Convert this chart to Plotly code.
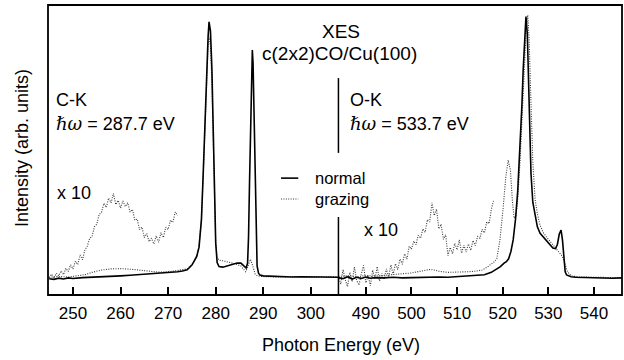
import plotly.graph_objects as go

# ---------------- DATA (intensity in arb. units, 0..100 frame) -------------
ck_tick_vals = [250, 260, 270, 280, 290, 300]
ok_tick_vals = [490, 500, 510, 520, 530, 540]

# C-K, normal emission (solid)
ck_normal_x = [245, 246, 247, 248, 249, 250, 252, 254, 256, 258, 260, 262, 264, 266, 268, 270, 272, 273,
               274, 275, 276, 276.5, 277, 277.4, 277.8, 278.1, 278.4, 278.6, 278.9, 279.2, 279.5, 279.7,
               280.0, 280.3, 280.7, 281.5, 282.5, 283.5, 284.5, 285.3, 285.9, 286.4, 286.7, 286.9, 287.1,
               287.3, 287.5, 287.7, 287.85, 288.0, 288.15, 288.3, 288.5, 288.7, 289.0, 289.3, 290, 292,
               294, 296, 298, 300, 302, 304, 305.8]
ck_normal_y = [5.6, 5.4, 5.8, 5.5, 5.9, 5.7, 6.0, 6.1, 6.3, 6.4, 6.6, 6.8, 7.0, 7.2, 7.4, 7.6, 8.0, 8.3,
               8.7, 10.3, 13.2, 16.5, 26, 43, 63, 78, 89, 94.2, 91, 78, 55, 38,
               18, 11.2, 9.8, 9.6, 10.0, 10.6, 11.0, 11.0, 10.2, 9.3, 11, 20, 38,
               56, 74, 84.5, 80, 67, 50, 33, 18, 10, 7.5, 6.9, 6.6, 6.4,
               6.3, 6.2, 6.3, 6.2, 6.1, 6.2, 6.1]

# C-K, grazing emission (dotted, x1)
ck_grazing_x = [245, 247, 249, 251, 252.5, 254, 256, 258, 260, 262, 264, 266, 268, 270, 272, 274, 275,
                276, 276.5, 277, 277.4, 277.8, 278.1, 278.4, 278.6, 278.9, 279.2, 279.5, 279.7, 280.0,
                280.3, 280.7, 281.5, 282.5, 283.5, 284.5, 285.3, 285.9, 286.3, 286.7, 287.0, 287.3,
                287.6, 287.9, 288.3, 288.8, 289.5, 291, 294, 297, 300, 303, 305.8]
ck_grazing_y = [6.1, 6.4, 6.2, 6.6, 7.0, 7.8, 8.6, 9.0, 9.1, 8.9, 8.6, 8.2, 7.9, 8.0, 8.5, 9.0, 10.5,
                13.5, 17, 26, 42, 62, 77, 86, 89, 86, 73, 50, 34, 18,
                13, 12, 11.8, 11.5, 11.0, 10.5, 10.0, 8.8, 8.0, 9.5, 11, 12.3,
                11, 9.0, 7.2, 6.6, 6.4, 6.3, 6.2, 6.4, 6.2, 6.3, 6.2]

# C-K, grazing x10 (noisy dotted)
ck_grazing10_x = [245.0, 245.5, 246.0, 246.5, 247.0, 247.5, 248.0, 248.5, 249.0, 249.5, 250.0, 250.5,
                  251.0, 251.5, 252.0, 252.5, 253.0, 253.5, 254.0, 254.5, 255.0, 255.5, 256.0, 256.5,
                  257.0, 257.5, 258.0, 258.5, 259.0, 259.5, 260.0, 260.5, 261.0, 261.5, 262.0, 262.5,
                  263.0, 263.5, 264.0, 264.5, 265.0, 265.5, 266.0, 266.5, 267.0, 267.5, 268.0, 268.5,
                  269.0, 269.5, 270.0, 270.5, 271.0, 271.5, 272.0]
ck_grazing10_y = [6.0, 7.2, 5.8, 7.5, 6.6, 8.3, 7.0, 9.2, 8.1, 10.4, 9.0, 11.6,
                  10.5, 13.8, 12.2, 15.5, 16.8, 19.5, 20.2, 23.5, 24.4, 27.8, 28.5, 31.6,
                  30.2, 33.4, 31.8, 35.0, 31.2, 32.6, 30.0, 32.4, 30.5, 31.8, 28.6, 29.5,
                  25.8, 26.2, 22.5, 23.4, 19.8, 21.2, 18.4, 19.6, 17.6, 20.4, 18.2, 21.5,
                  19.8, 23.4, 22.6, 25.8, 25.0, 28.6, 27.4]

# O-K, normal emission (solid)
ok_normal_x = [484, 485, 486, 487, 488, 489, 490, 491, 492, 494, 496, 498, 500, 502, 504, 506, 508, 510,
               512, 514, 516, 517.5, 518.5, 519.5, 520.3, 520.8, 521.3, 521.8, 522.3, 522.8, 523.3,
               523.8, 524.2, 524.5, 524.8, 525.1, 525.4, 525.7, 525.9, 526.2, 526.6, 527.1, 527.6,
               528.2, 528.9, 529.6, 530.3, 531.0, 531.6, 532.0, 532.4, 532.8, 533.1, 533.4, 533.7,
               534.0, 535, 536, 538, 540, 542, 544, 546.1]
ok_normal_y = [6.0, 5.6, 6.3, 5.5, 6.1, 5.7, 6.2, 5.8, 6.0, 5.9, 6.1, 5.9, 6.0, 6.1, 6.0, 6.2, 6.1, 6.3,
               6.4, 6.6, 7.0, 7.8, 8.8, 9.8, 11.0, 11.5, 12.5, 15, 19, 26, 36,
               50, 65, 78, 90, 96, 90, 70, 58, 42, 32, 27, 23.5,
               21.3, 20, 19, 17.5, 16.2, 16.0, 17.5, 21, 22.4, 19, 12, 8,
               6.9, 6.3, 6.1, 6.0, 5.9, 6.0, 5.8, 5.9]

# O-K, grazing emission (dotted, x1)
ok_grazing_x = [484, 486, 488, 490, 492, 494, 496, 498, 500, 502, 504, 505, 506, 508, 510, 512, 514,
                515.5, 516.5, 517.5, 518.2, 518.7, 519.4, 520.1, 520.7, 521.2, 521.7, 522.1, 522.5,
                522.9, 523.3, 523.8, 524.3, 524.8, 525.2, 525.5, 525.8, 526.2, 526.6, 527.1, 527.6,
                528.2, 528.9, 529.6, 530.4, 531.2, 531.9, 532.5, 533.0, 533.5, 534.2, 535, 537, 540,
                543, 546.1]
ok_grazing_y = [6.4, 6.6, 6.3, 6.7, 6.5, 6.8, 7.0, 7.2, 7.6, 8.2, 8.8, 8.6, 8.2, 7.8, 7.8, 8.0, 8.2,
                8.6, 9.5, 10.5, 11.5, 12.5, 19, 30, 41, 46.5, 43, 33, 26.5,
                27, 33, 46, 62, 80, 93, 96.5, 88, 66, 46, 33, 28,
                24, 21.5, 20, 18.5, 17, 15.8, 14.8, 13.5, 11.5, 8.0, 6.6, 6.2, 6.1,
                6.0, 6.0]

# O-K, grazing x10 (noisy dotted)
ok_grazing10_x = [484.0, 484.5, 485.0, 485.5, 486.0, 486.5, 487.0, 487.5, 488.0, 488.5, 489.0, 489.5,
                  490.0, 490.5, 491.0, 491.5, 492.0, 492.5, 493.0, 493.5, 494.0, 494.5, 495.0, 495.5,
                  496.0, 496.5, 497.0, 497.5, 498.0, 498.5, 499.0, 499.5, 500.0, 500.5, 501.0, 501.5,
                  502.0, 502.5, 503.0, 503.5, 504.0, 504.5, 505.0, 505.5, 506.0, 506.5, 507.0, 507.5,
                  508.0, 508.5, 509.0, 509.5, 510.0, 510.5, 511.0, 511.5, 512.0, 512.5, 513.0, 513.5,
                  514.0, 514.5, 515.0, 515.5, 516.0, 516.5, 517.0, 517.5, 518.0]
ok_grazing10_y = [6.5, 3.8, 8.8, 5.2, 2.9, 7.8, 4.6, 9.6, 5.0, 3.4, 7.2, 10.2,
                  4.2, 6.8, 3.2, 8.6, 5.6, 9.8, 4.8, 7.4, 5.4, 9.0, 6.2, 10.4,
                  7.0, 10.8, 8.8, 12.4, 10.6, 14.2, 12.4, 16.8, 15.8, 18.6, 17.4, 20.6,
                  19.6, 22.8, 21.6, 26.0, 25.2, 31.8, 27.4, 29.6, 22.8, 24.4, 19.2, 20.8,
                  13.6, 16.4, 14.2, 17.8, 15.6, 19.0, 14.4, 17.2, 14.8, 17.6, 15.4, 18.8,
                  17.0, 20.2, 19.6, 22.6, 21.4, 25.2, 24.6, 29.4, 32.6]

series_names = ["normal", "grazing"]

# ---------------- FIGURE ----------------
FONT = "Liberation Sans, Arial, Helvetica, sans-serif"
SPLIT = 0.506
SOLID = dict(color="black", width=1.6)
DOT = dict(color="#383838", width=1.1, dash="1px,1.4px")

fig = go.Figure()

def add(x, y, line, xa, name):
    fig.add_trace(go.Scatter(x=x, y=y, mode="lines", line=line, xaxis=xa, yaxis="y",
                             name=name, showlegend=False, hoverinfo="x+y"))

add(ck_grazing10_x, ck_grazing10_y, DOT, "x", "grazing x10")
add(ck_grazing_x, ck_grazing_y, DOT, "x", series_names[1])
add(ck_normal_x, ck_normal_y, SOLID, "x", series_names[0])
add(ok_grazing10_x, ok_grazing10_y, DOT, "x2", "grazing x10")
add(ok_grazing_x, ok_grazing_y, DOT, "x2", series_names[1])
add(ok_normal_x, ok_normal_y, SOLID, "x2", series_names[0])

axis_common = dict(showgrid=False, zeroline=False, showline=False, ticks="inside", ticklen=8,
                   tickwidth=1.5, tickcolor="black", ticklabelstandoff=6,
                   tickfont=dict(family=FONT, size=17, color="black"))

fig.update_layout(
    width=624, height=360,
    margin=dict(l=48, r=2, t=5, b=65),
    paper_bgcolor="white", plot_bgcolor="white",
    xaxis=dict(domain=[0, SPLIT], range=[244.75, 305.8], tickvals=ck_tick_vals,
               anchor="y", **axis_common),
    xaxis2=dict(domain=[SPLIT, 1], range=[484.0, 546.15], tickvals=ok_tick_vals,
                anchor="y", **axis_common),
    yaxis=dict(range=[0, 100], showticklabels=False, ticks="", showgrid=False,
               zeroline=False, showline=False),
    showlegend=False,
)

# frame
fig.add_shape(type="rect", xref="paper", yref="paper", x0=0, x1=1, y0=0, y1=1,
              line=dict(color="black", width=1.8), layer="above")
# split line segments
for y0, y1 in [(0.0, 0.269), (0.490, 0.748)]:
    fig.add_shape(type="line", xref="paper", yref="paper", x0=SPLIT, x1=SPLIT, y0=y0, y1=y1,
                  line=dict(color="black", width=1.5))

# legend samples
fig.add_shape(type="line", xref="paper", yref="paper", x0=0.406, x1=0.436, y0=0.403, y1=0.403,
              line=SOLID)
fig.add_shape(type="line", xref="paper", yref="paper", x0=0.406, x1=0.436, y0=0.331, y1=0.331,
              line=DOT)

def ann(text, x, y, size, xanchor="left", angle=0):
    fig.add_annotation(text=text, x=x, y=y, xref="paper", yref="paper", showarrow=False,
                       xanchor=xanchor, yanchor="middle", textangle=angle,
                       font=dict(family=FONT, size=size, color="black"))

HW = "<span style='font-family:DejaVu Serif'><i>ℏω</i></span>"
ann("XES", 0.5105, 0.910, 19, "center")
ann("c(2x2)CO/Cu(100)", 0.5087, 0.834, 19, "center")
ann("C-K", 0.010, 0.672, 18)
ann(HW + " = 287.7 eV", 0.010, 0.593, 18)
ann("O-K", 0.522, 0.672, 18)
ann(HW + " = 533.7 eV", 0.522, 0.593, 18)
ann("x 10", 0.012, 0.352, 18)
ann("x 10", 0.547, 0.224, 18)
ann(series_names[0], 0.461, 0.403, 16.5)
ann(series_names[1], 0.461, 0.331, 16.5)
ann("Photon Energy (eV)", 0.5105, -0.172, 18, "center")
ann("Intensity (arb. units)", -0.0453, 0.507, 18, "center", angle=-90)

fig.write_html("out.html", config={"displayModeBar": False},
               post_script="document.body.style.margin='0px';")
